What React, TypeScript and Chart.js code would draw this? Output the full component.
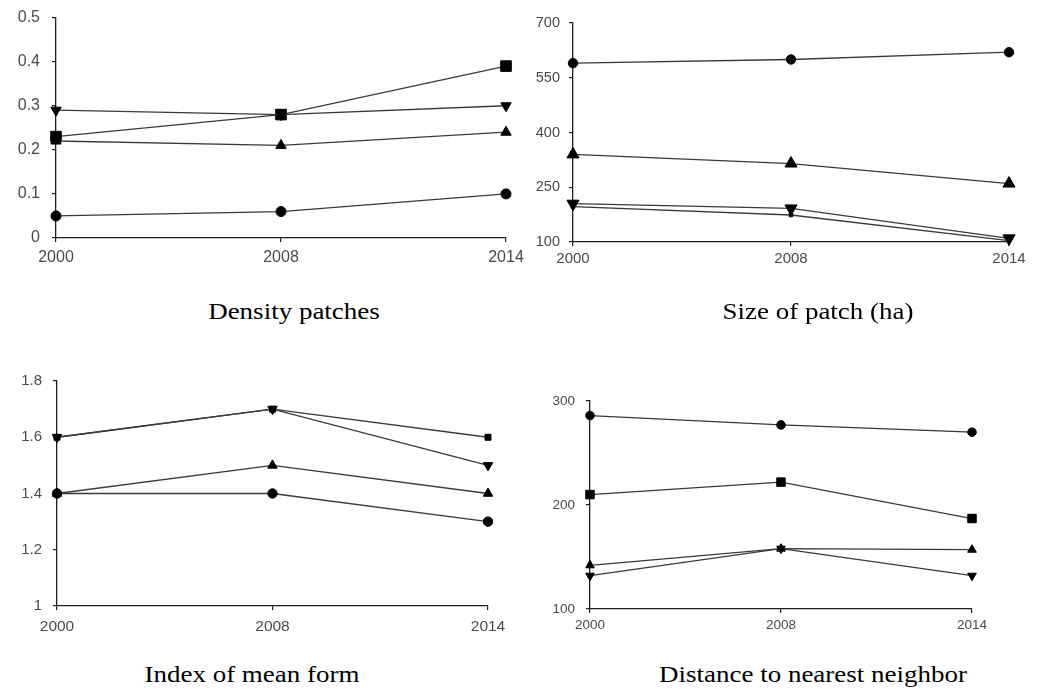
import React, { useEffect, useRef } from 'react';
import { Chart, registerables } from 'chart.js';
Chart.register(...registerables);

// ---------- data ----------
const years = ['2000', '2008', '2014'];

// Density patches
const densityCircle = [0.05, 0.06, 0.10];
const densitySquare = [0.23, 0.28, 0.39];
const densityTriUp = [0.22, 0.21, 0.24];
const densityTriDown = [0.29, 0.28, 0.30];

// Size of patch (ha)
const sizeCircle = [590, 600, 620];
const sizeTriUp = [340, 315, 260];
const sizeTriDown = [205, 192, 110];
const sizeSquare = [197, 174, 104];

// Index of mean form
const formCircle = [1.4, 1.4, 1.3];
const formSquare = [1.6, 1.7, 1.6];
const formTriUp = [1.4, 1.5, 1.4];
const formTriDown = [1.6, 1.7, 1.5];

// Distance to nearest neighbor
const distCircle = [286, 277, 270];
const distSquare = [210, 222, 187];
const distTriUp = [142, 158, 157];
const distTriDown = [132, 158, 132];

const captions = ['Density patches', 'Size of patch (ha)', 'Index of mean form', 'Distance to nearest neighbor'];

// ---------- layout ----------
type Ser = { name: string; data: number[]; style: string; rot: number; r: number };
type Panel = {
  area: { l: number; t: number; r: number; b: number };
  min: number; max: number; step: number;
  yFont: number; xFont: number; yPad: number; xPad: number;
  series: Ser[];
  cap: { cx: number; top: number };
};

const PL = 70, PR = 35, PT = 20, PB = 45;

const panels: Panel[] = [
  {
    area: { l: 56, t: 16, r: 506, b: 238 }, min: 0, max: 0.5, step: 0.1,
    yFont: 16, xFont: 16, yPad: 12, xPad: 6,
    series: [
      { name: 'A', data: densityCircle, style: 'circle', rot: 0, r: 5 },
      { name: 'B', data: densityTriUp, style: 'triangle', rot: 0, r: 6 },
      { name: 'C', data: densityTriDown, style: 'triangle', rot: 180, r: 6 },
      { name: 'D', data: densitySquare, style: 'rect', rot: 0, r: 7.5 },
    ],
    cap: { cx: 294, top: 301 },
  },
  {
    area: { l: 573, t: 23, r: 1009, b: 242 }, min: 100, max: 700, step: 150,
    yFont: 14.5, xFont: 15, yPad: 9, xPad: 4,
    series: [
      { name: 'A', data: sizeCircle, style: 'circle', rot: 0, r: 4.7 },
      { name: 'B', data: sizeTriUp, style: 'triangle', rot: 0, r: 7 },
      { name: 'D', data: sizeSquare, style: 'rect', rot: 0, r: 2.5 },
      { name: 'C', data: sizeTriDown, style: 'triangle', rot: 180, r: 7 },
    ],
    cap: { cx: 818, top: 301 },
  },
  {
    area: { l: 57, t: 381, r: 488, b: 606 }, min: 1, max: 1.8, step: 0.2,
    yFont: 15, xFont: 15.5, yPad: 11, xPad: 7,
    series: [
      { name: 'A', data: formCircle, style: 'circle', rot: 0, r: 4.7 },
      { name: 'B', data: formTriUp, style: 'triangle', rot: 0, r: 5.5 },
      { name: 'D', data: formSquare, style: 'rect', rot: 0, r: 4.2 },
      { name: 'C', data: formTriDown, style: 'triangle', rot: 180, r: 5.5 },
    ],
    cap: { cx: 252, top: 664 },
  },
  {
    area: { l: 590, t: 401, r: 972, b: 609 }, min: 100, max: 300, step: 100,
    yFont: 13.5, xFont: 13.5, yPad: 11, xPad: 4,
    series: [
      { name: 'A', data: distCircle, style: 'circle', rot: 0, r: 4.3 },
      { name: 'D', data: distSquare, style: 'rect', rot: 0, r: 6 },
      { name: 'B', data: distTriUp, style: 'triangle', rot: 0, r: 5 },
      { name: 'C', data: distTriDown, style: 'triangle', rot: 180, r: 5 },
    ],
    cap: { cx: 813, top: 664 },
  },
];

const FONT = '"Liberation Sans", Arial, Helvetica, sans-serif';
const LABEL = '#4a4a4a';
const AXIS = '#1e1e1e';
const LINE = '#3a3a3a';

function canvasBox(p: Panel) {
  return {
    left: p.area.l - PL,
    top: p.area.t - PT,
    width: p.area.r - p.area.l + PL + PR,
    height: p.area.b - p.area.t + PT + PB,
  };
}

export default function App() {
  const refs = useRef<(HTMLCanvasElement | null)[]>([]);

  useEffect(() => {
    const charts: Chart[] = [];
    panels.forEach((p, i) => {
      const cv = refs.current[i];
      if (!cv) return;
      const ch = new Chart(cv, {
        type: 'line',
        data: {
          labels: years,
          datasets: p.series.map((s) => ({
            label: s.name,
            data: s.data,
            borderColor: LINE,
            borderWidth: 1.3,
            backgroundColor: '#000',
            pointStyle: s.style as any,
            pointRotation: s.rot,
            pointRadius: s.r,
            pointBackgroundColor: '#000',
            pointBorderColor: '#000',
            pointBorderWidth: 1,
            tension: 0,
            fill: false,
            clip: false as any,
          })),
        },
        options: {
          responsive: false,
          animation: false,
          devicePixelRatio: 1,
          layout: { padding: { top: PT, right: PR, left: 0, bottom: 0 } },
          plugins: { legend: { display: false }, tooltip: { enabled: false }, title: { display: false } },
          scales: {
            x: {
              type: 'category',
              offset: false,
              grid: { display: true, drawOnChartArea: false, drawTicks: true, tickLength: 4, color: AXIS, lineWidth: 1.2 },
              border: { display: true, color: AXIS, width: 1.3 },
              ticks: { color: LABEL, font: { family: FONT, size: p.xFont }, padding: p.xPad, maxRotation: 0, autoSkip: false },
              afterFit: (sc: any) => { sc.height = PB; },
            },
            y: {
              type: 'linear',
              min: p.min,
              max: p.max,
              grid: { display: true, drawOnChartArea: false, drawTicks: true, tickLength: 4, color: AXIS, lineWidth: 1.2 },
              border: { display: true, color: AXIS, width: 1.3 },
              ticks: {
                stepSize: p.step,
                color: LABEL,
                font: { family: FONT, size: p.yFont },
                padding: p.yPad,
                callback: (v: any) => String(Number(Number(v).toFixed(3))),
              },
              afterFit: (sc: any) => { sc.width = PL; },
            },
          },
        },
      });
      charts.push(ch);
    });
    return () => charts.forEach((c) => c.destroy());
  }, []);

  return (
    <div style={{ position: 'absolute', left: 0, top: 0, width: 1038, height: 694, background: '#fff', overflow: 'hidden' }}>
      {panels.map((p, i) => {
        const b = canvasBox(p);
        return (
          <canvas
            key={'c' + i}
            ref={(el) => { refs.current[i] = el; }}
            width={b.width}
            height={b.height}
            style={{ position: 'absolute', left: b.left, top: b.top, width: b.width, height: b.height }}
          />
        );
      })}
      {panels.map((p, i) => (
        <div
          key={'t' + i}
          style={{
            position: 'absolute',
            left: p.cap.cx - 300,
            top: p.cap.top,
            width: 600,
            textAlign: 'center',
            fontFamily: '"Liberation Serif", "Times New Roman", serif',
            fontSize: 27,
            lineHeight: '27px',
            color: '#000',
            transform: 'scale(1, 0.83)',
            transformOrigin: 'top center',
            whiteSpace: 'nowrap',
          }}
        >
          {captions[i]}
        </div>
      ))}
    </div>
  );
}
